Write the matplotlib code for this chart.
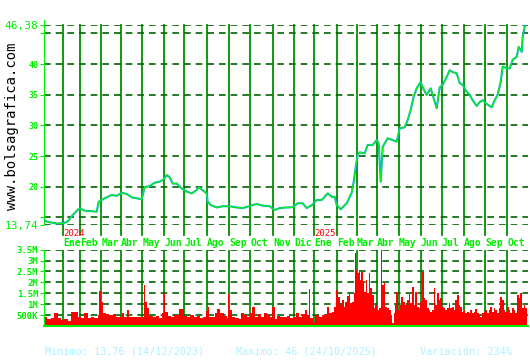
import numpy as np
import matplotlib
matplotlib.use('Agg')
import matplotlib.pyplot as plt
import matplotlib.transforms as mtransforms

# eje x: sesiones desde el borde izquierdo del gráfico
price_day = [1, 6, 13, 19, 24, 29, 34, 36, 41, 48, 53, 55, 61, 68, 73, 78, 83, 88, 93, 98,
             101, 106, 111, 116, 120, 123, 126, 129, 133, 138, 143, 148, 153, 155, 159, 163,
             164, 167, 173, 179, 186, 193, 199, 206, 213, 219, 226, 231, 236, 243, 249, 254,
             259, 263, 268, 273, 278, 281, 284, 288, 291, 293, 297, 300, 303, 308, 310, 312,
             314, 316, 321, 324, 329, 333, 335, 337, 339, 344, 349, 353, 356, 361, 364, 367,
             370, 373, 377, 379, 383, 387, 390, 393, 396, 399, 403, 406, 409, 413, 416, 419,
             423, 426, 429, 433, 436, 439, 443, 448, 451, 454, 457, 459, 463, 466, 469, 473,
             475, 478, 479, 481, 482]
price_val = [14.44, 14.18, 14.0, 14.0, 14.3, 15.37, 16.2, 16.47, 16.07, 16.0, 15.9, 17.54,
             18.1, 18.64, 18.5, 19.0, 18.8, 18.26, 18.1, 17.93, 19.9, 20.1, 20.64, 20.8, 21.2,
             21.9, 21.5, 20.5, 20.5, 19.7, 19.2, 18.9, 19.45, 19.9, 19.4, 18.9, 17.54, 17.0,
             16.6, 16.8, 16.8, 16.6, 16.5, 16.84, 17.17, 16.9, 16.8, 16.2, 16.5, 16.6, 16.65,
             17.28, 17.28, 16.5, 16.95, 17.82, 17.82, 18.34, 18.9, 18.34, 18.34, 17.0, 16.3,
             16.8, 17.28, 19.0, 20.8, 23.2, 25.2, 25.6, 25.44, 26.8, 26.8, 27.6, 27.0, 20.8,
             26.5, 27.9, 27.6, 27.35, 29.5, 29.7, 30.9, 32.5, 34.7, 36.05, 37.1, 36.2, 34.96,
             36.05, 34.4, 32.8, 36.2, 36.6, 37.9, 39.0, 38.7, 38.5, 36.9, 36.6, 35.5, 34.96,
             34.1, 33.16, 33.8, 34.1, 33.5, 32.95, 34.1, 35.0, 37.1, 39.6, 39.3, 39.3, 40.7,
             41.2, 42.8, 42.0, 44.5, 46.1, 46.38]

vol_day = [0, 3, 7, 10, 14, 17, 20, 24, 27, 30, 34, 37, 40, 44, 47, 50, 54, 55, 57, 59, 62,
           65, 69, 72, 75, 78, 80, 83, 85, 89, 92, 95, 98, 100, 101, 103, 105, 109, 112, 115,
           118, 120, 121, 124, 127, 130, 134, 135, 137, 140, 143, 146, 150, 153, 156, 159, 162,
           164, 165, 168, 171, 173, 176, 180, 183, 184, 185, 188, 191, 195, 197, 200, 203, 206,
           208, 211, 214, 217, 220, 223, 226, 228, 231, 233, 236, 240, 243, 246, 250, 252, 255,
           258, 261, 263, 265, 266, 269, 271, 275, 278, 281, 283, 285, 288, 290, 292, 294, 296,
           298, 300, 301, 303, 305, 306, 308, 310, 311, 312, 313, 315, 316, 317, 319, 320, 322,
           323, 325, 326, 328, 330, 331, 333, 335, 337, 338, 340, 341, 343, 345, 347, 348, 350,
           351, 352, 354, 356, 357, 359, 361, 363, 365, 366, 368, 370, 371, 373, 375, 376, 378,
           380, 381, 383, 385, 386, 388, 390, 391, 393, 395, 396, 398, 400, 401, 403, 405, 406,
           408, 410, 411, 413, 415, 416, 418, 420, 421, 423, 425, 426, 428, 430, 431, 433, 435,
           436, 438, 440, 441, 443, 445, 446, 448, 450, 451, 453, 455, 456, 458, 460, 461, 463,
           465, 466, 468, 470, 471, 473, 475, 476, 478, 480, 481, 483]
vol_m = [0.43, 0.31, 0.35, 0.61, 0.35, 0.27, 0.32, 0.24, 0.64, 0.66, 0.43, 0.38, 0.58, 0.35,
         0.40, 0.38, 0.50, 1.60, 1.11, 0.58, 0.55, 0.50, 0.53, 0.43, 0.43, 0.61, 0.40, 0.73,
         0.43, 0.43, 0.40, 0.43, 0.43, 1.88, 1.11, 0.81, 0.46, 0.43, 0.46, 0.35, 0.58, 1.53,
         0.66, 0.46, 0.43, 0.50, 0.50, 0.78, 0.76, 0.46, 0.43, 0.50, 0.43, 0.46, 0.35, 0.43,
         0.70, 0.89, 0.43, 0.40, 0.58, 0.76, 0.61, 0.46, 0.38, 1.47, 0.73, 0.43, 0.38, 0.31,
         0.58, 0.50, 0.43, 0.61, 0.89, 0.43, 0.53, 0.43, 0.61, 0.50, 0.43, 0.85, 0.31, 0.46,
         0.43, 0.43, 0.46, 0.35, 0.43, 0.58, 0.43, 0.53, 0.73, 0.50, 1.68, 0.35, 0.20, 0.50,
         0.43, 0.50, 0.53, 0.85, 0.58, 0.66, 0.89, 1.65, 1.34, 0.96, 1.19, 0.85, 1.11, 1.37,
         1.57, 1.04, 1.11, 1.50, 3.36, 2.56, 2.41, 2.56, 2.11, 2.49, 1.95, 1.57, 2.11, 1.50,
         2.41, 1.73, 1.42, 0.81, 0.96, 0.73, 0.81, 3.48, 1.88, 1.95, 0.89, 0.81, 0.73, 0.50,
         0.12, 0.58, 1.04, 1.57, 0.73, 0.96, 1.34, 1.11, 0.96, 1.19, 1.50, 1.04, 1.80, 0.96,
         1.57, 0.89, 0.81, 1.11, 2.49, 1.27, 1.19, 0.81, 0.73, 0.66, 0.73, 1.73, 0.96, 1.50,
         1.19, 1.27, 0.89, 0.81, 0.73, 0.81, 1.04, 0.81, 0.89, 0.73, 1.19, 1.42, 0.96, 0.89,
         0.66, 0.73, 0.58, 0.66, 0.61, 0.73, 0.58, 0.66, 0.76, 0.58, 0.50, 0.43, 0.58, 0.66,
         0.73, 0.58, 0.73, 0.89, 0.66, 0.81, 0.73, 0.58, 0.81, 1.34, 1.19, 0.73, 0.66, 0.89,
         0.73, 0.58, 0.81, 0.73, 0.58, 1.42, 1.27, 1.50, 0.81, 0.96, 0.81, 0.0]

month_pos = [19.6, 36.6, 57.6, 77.6, 98.6, 120.6, 140.6, 163.6, 185.6, 206.6, 229.6, 250.3,
             270.6, 293, 313, 333.6, 355.3, 377, 398, 420.6, 441.6, 463.6]
month_lbl = ['Ene', 'Feb', 'Mar', 'Abr', 'May', 'Jun', 'Jul', 'Ago', 'Sep', 'Oct', 'Nov', 'Dic',
             'Ene', 'Feb', 'Mar', 'Abr', 'May', 'Jun', 'Jul', 'Ago', 'Sep', 'Oct']
year_lbl = ['2024', '2025']
year_pos = [19.6, 270.6]

price_ticks = [13.74, 15, 20, 25, 30, 35, 40, 45, 46.38]
price_tick_lbl = ['13,74', '', '20', '25', '30', '35', '40', '', '46,38']
vol_ticks = [0.5, 1, 1.5, 2, 2.5, 3, 3.5]
vol_tick_lbl = ['500K', '1M', '1.5M', '2M', '2.5M', '3M', '3.5M']

MONO = 'DejaVu Sans Mono'
GREEN = '#00ee00'
VLINE = '#009000'
HDASH = '#006400'

fig = plt.figure(figsize=(5.3, 3.6), dpi=100)
fig.patch.set_facecolor('white')

ax1 = fig.add_axes([43.7 / 530, 135 / 360, 484.3 / 530, 200 / 360])
ax2 = fig.add_axes([43.7 / 530, 34 / 360, 484.3 / 530, 76.4 / 360])

xmax = 484.3

# precio
for m in month_pos:
    ax1.axvline(m, ymin=-0.05, ymax=1, color=VLINE, lw=1.3, clip_on=False, zorder=1)
for t in price_ticks:
    ax1.axhline(t, color=HDASH, lw=1.2, ls=(0, (4, 3)), zorder=1)
ax1.plot(price_day, price_val, color='#10a8c0', lw=1.5, zorder=3)
ax1.plot(price_day, price_val, color='#00ff00', lw=0.7, zorder=4)
ax1.set_xlim(0, xmax)
ax1.set_ylim(13.74, 46.38)
ax1.set_xticks([])
ax1.set_yticks(price_ticks)
ax1.set_yticklabels(price_tick_lbl)
ax1.tick_params(axis='y', length=3, color=GREEN, pad=1)
for lbl, t in zip(ax1.get_yticklabels(), price_ticks):
    lbl.set_family(MONO)
    lbl.set_color(GREEN)
    if t in (13.74, 46.38):
        lbl.set_fontsize(8)
    else:
        lbl.set_fontsize(6)
        lbl.set_fontweight('bold')
for s in ['top', 'right', 'bottom']:
    ax1.spines[s].set_visible(False)
ax1.spines['left'].set_color(GREEN)
ax1.spines['left'].set_bounds(13.74, 47.2)

trans = mtransforms.blended_transform_factory(ax1.transData, ax1.transAxes)
for m, lbl in zip(month_pos, month_lbl):
    ax1.text(m, -0.09, lbl, transform=trans, ha='left', va='center', color=GREEN,
             fontsize=7, family=MONO, fontweight='bold')
for y, p in zip(year_lbl, year_pos):
    ax1.text(p, -0.04, y, transform=trans, ha='left', va='center', color='#ff0000',
             fontsize=6.5, family=MONO)

# volumen
for m in month_pos:
    ax2.axvline(m, color=VLINE, lw=1.3, zorder=1)
for t in vol_ticks:
    ax2.axhline(t, color=HDASH, lw=1.2, ls=(0, (4, 3)), zorder=1)
widths = np.diff(vol_day)
ax2.bar(vol_day[:-1], vol_m[:-1], width=widths, align='edge', color='#ff0000', lw=0, zorder=2)
ax2.set_xlim(0, xmax)
ax2.set_ylim(0, 3.5)
ax2.set_xticks([])
ax2.set_yticks(vol_ticks)
ax2.set_yticklabels(vol_tick_lbl)
ax2.tick_params(axis='y', length=3, color=GREEN, pad=1, labelsize=6.5, labelcolor=GREEN)
for lbl in ax2.get_yticklabels():
    lbl.set_family(MONO)
    lbl.set_fontweight('bold')
for s in ['top', 'right']:
    ax2.spines[s].set_visible(False)
ax2.spines['left'].set_color(GREEN)
ax2.spines['bottom'].set_color(GREEN)
ax2.spines['bottom'].set_linewidth(1.5)

fig.text(12 / 530, 1 - 126 / 360, 'www.bolsagrafica.com', rotation=90, ha='center', va='center',
         color='black', fontsize=10, family=MONO)

bottom_y = 1 - 352 / 360
fig.text(45 / 530, bottom_y, 'Minimo: 13,76 (14/12/2023)', color='#b0f0ff', fontsize=7.4,
         family=MONO, va='center')
fig.text(236 / 530, bottom_y, 'Maximo: 46 (24/10/2025)', color='#b0f0ff', fontsize=7.4,
         family=MONO, va='center')
fig.text(420 / 530, bottom_y, 'Variación: 234%', color='#b0f0ff', fontsize=7.4,
         family=MONO, va='center')

fig.savefig('out.png', dpi=100, facecolor='white')
